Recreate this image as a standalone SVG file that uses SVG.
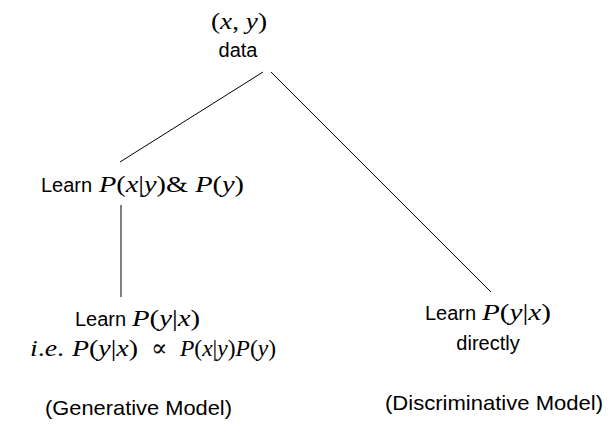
<svg xmlns="http://www.w3.org/2000/svg" width="613" height="443" viewBox="0 0 613 443">
<style>
.s{font-family:"Liberation Sans","Open Sans",sans-serif;font-size:20px;fill:#000}
.q{font-family:"Liberation Serif","DejaVu Serif",serif;font-size:24px;fill:#000}
.m{font-style:italic}
.b{font-size:21px}
line{stroke:#000;stroke-width:1}
</style>
<rect width="613" height="443" fill="#fff"/>
<g id="connectors">
<line x1="263" y1="72" x2="120" y2="162"/>
<line x1="271" y1="72" x2="491" y2="292"/>
<line x1="121" y1="205" x2="121" y2="297"/>
</g>
<g id="data">
<text class="q" x="211" y="29" textLength="56" lengthAdjust="spacingAndGlyphs">(<tspan class="m">x</tspan>, <tspan class="m">y</tspan>)</text>
<text class="s" x="238" y="57" text-anchor="middle">data</text>
</g>
<g id="learn-joint">
<text class="s" x="41" y="192">Learn</text>
<text class="q" x="99" y="192" textLength="145" lengthAdjust="spacingAndGlyphs"><tspan class="m">P</tspan>(<tspan class="m">x</tspan>|<tspan class="m">y</tspan>)&amp; <tspan class="m">P</tspan>(<tspan class="m">y</tspan>)</text>
</g>
<g id="generative">
<text class="s" x="75" y="326">Learn</text>
<text class="q" x="132" y="326" textLength="68" lengthAdjust="spacingAndGlyphs"><tspan class="m">P</tspan>(<tspan class="m">y</tspan>|<tspan class="m">x</tspan>)</text>
<text class="q" y="356"><tspan x="30" textLength="34" lengthAdjust="spacingAndGlyphs"><tspan class="m">i</tspan>.<tspan class="m">e</tspan>.</tspan><tspan x="72" textLength="66" lengthAdjust="spacingAndGlyphs"><tspan class="m">P</tspan>(<tspan class="m">y</tspan>|<tspan class="m">x</tspan>)</tspan><tspan x="151">∝</tspan><tspan x="180" textLength="96" lengthAdjust="spacingAndGlyphs"><tspan class="m">P</tspan>(<tspan class="m">x</tspan>|<tspan class="m">y</tspan>)<tspan class="m">P</tspan>(<tspan class="m">y</tspan>)</tspan></text>
<text class="s b" x="45" y="415" textLength="187" lengthAdjust="spacingAndGlyphs">(Generative Model)</text>
</g>
<g id="discriminative">
<text class="s" x="425" y="320">Learn</text>
<text class="q" x="482" y="320" textLength="69" lengthAdjust="spacingAndGlyphs"><tspan class="m">P</tspan>(<tspan class="m">y</tspan>|<tspan class="m">x</tspan>)</text>
<text class="s" x="488" y="350" text-anchor="middle">directly</text>
<text class="s b" x="385" y="410" textLength="218" lengthAdjust="spacingAndGlyphs">(Discriminative Model)</text>
</g>
</svg>
